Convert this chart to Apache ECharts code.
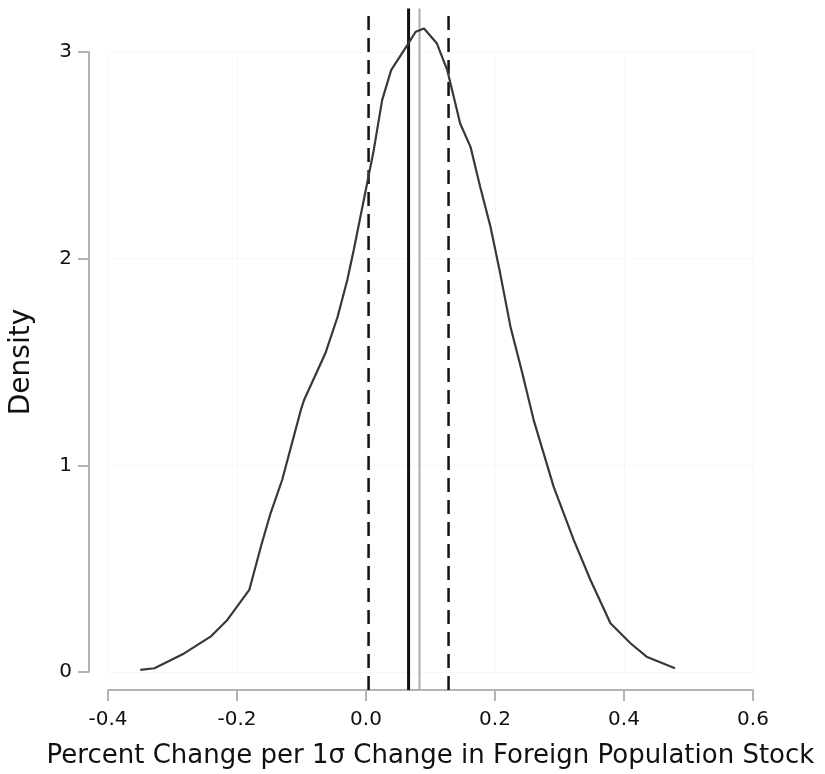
<!DOCTYPE html>
<html>
<head>
<meta charset="utf-8">
<script src="https://cdn.jsdelivr.net/npm/echarts@6/dist/echarts.min.js"></script>
<style>
html,body{margin:0;padding:0;background:#fff;}
#chart{width:825px;height:774px;}
</style>
</head>
<body>
<div id="chart"></div>
<script>
// Density curve (x = percent change, y = density)
const densityX = [-0.350, -0.328, -0.282, -0.241, -0.215, -0.181, -0.163, -0.148, -0.130, -0.101, -0.096, -0.063, -0.044, -0.029, -0.019, 0.004, 0.012, 0.025, 0.039, 0.064, 0.077, 0.090, 0.110, 0.126, 0.136, 0.146, 0.162, 0.177, 0.193, 0.208, 0.224, 0.242, 0.260, 0.291, 0.322, 0.348, 0.379, 0.410, 0.435, 0.479];
const densityY = [0.010, 0.018, 0.090, 0.171, 0.252, 0.397, 0.606, 0.768, 0.929, 1.268, 1.316, 1.542, 1.719, 1.897, 2.042, 2.400, 2.525, 2.767, 2.912, 3.033, 3.098, 3.114, 3.041, 2.912, 2.783, 2.654, 2.541, 2.348, 2.154, 1.929, 1.671, 1.450, 1.219, 0.896, 0.639, 0.445, 0.236, 0.139, 0.074, 0.018];

// Reference lines
const ciLines = [0.004, 0.128];   // dashed
const meanLine = [0.066];         // solid black
const medianLine = [0.083];       // solid grey

const xTicks = [-0.4, -0.2, 0.0, 0.2, 0.4, 0.6];
const yTicks = [0, 1, 2, 3];

const yBottom = -0.087, yTop = 3.21;

const FONT = 'DejaVu Sans, Liberation Sans, Arial, sans-serif';

const curveData = densityX.map((x, i) => [x, densityY[i]]);
function vline(x, color, width, type) {
  return {
    type: 'line', data: [[x, yBottom], [x, yTop]], clip: false, symbol: 'none', silent: true,
    lineStyle: { color: color, width: width, type: type }, z: 2
  };
}

const series = [];
ciLines.forEach(x => series.push(vline(x, '#111', 2.5, [14, 8])));
medianLine.forEach(x => series.push(vline(x, '#aaaaaa', 2, 'solid')));
meanLine.forEach(x => series.push(vline(x, '#111', 3, 'solid')));
series.push({
  type: 'line', data: curveData, clip: false, symbol: 'none', smooth: false,
  lineStyle: { color: '#383838', width: 2.2 }, z: 3
});

const chart = echarts.init(document.getElementById('chart'), null, { renderer: 'canvas' });
chart.setOption({
  backgroundColor: '#fff',
  animation: false,
  grid: { left: 107, right: 72, top: 52, bottom: 102, containLabel: false },
  xAxis: {
    type: 'value', min: xTicks[0], max: xTicks[xTicks.length - 1], interval: 0.2, offset: 18,
    name: 'Percent Change per 1\u03c3 Change in Foreign Population Stock',
    nameLocation: 'middle', nameGap: 53,
    nameTextStyle: { fontFamily: FONT, fontSize: 26, color: '#111' },
    axisLine: { show: true, onZero: false, lineStyle: { color: '#b4b4b4', width: 2 } },
    axisTick: { show: true, length: 11, lineStyle: { color: '#b4b4b4', width: 2 } },
    axisLabel: { margin: 20, fontFamily: FONT, fontSize: 20, color: '#111',
      formatter: v => v.toFixed(1) },
    splitLine: { show: true, lineStyle: { color: '#f0f0f0', type: 'dotted', width: 1 } }
  },
  yAxis: {
    type: 'value', min: yTicks[0], max: yTicks[yTicks.length - 1], interval: 1, offset: 19,
    name: 'Density', nameLocation: 'middle', nameGap: 53, nameRotate: 90,
    nameTextStyle: { fontFamily: FONT, fontSize: 28, color: '#111' },
    axisLine: { show: true, onZero: false, lineStyle: { color: '#b4b4b4', width: 2 } },
    axisTick: { show: true, length: 11, lineStyle: { color: '#b4b4b4', width: 2 } },
    axisLabel: { margin: 17, fontFamily: FONT, fontSize: 20, color: '#111',
      formatter: v => String(v) },
    splitLine: { show: true, lineStyle: { color: '#f0f0f0', type: 'dotted', width: 1 } }
  },
  series: series
});
</script>
</body>
</html>
